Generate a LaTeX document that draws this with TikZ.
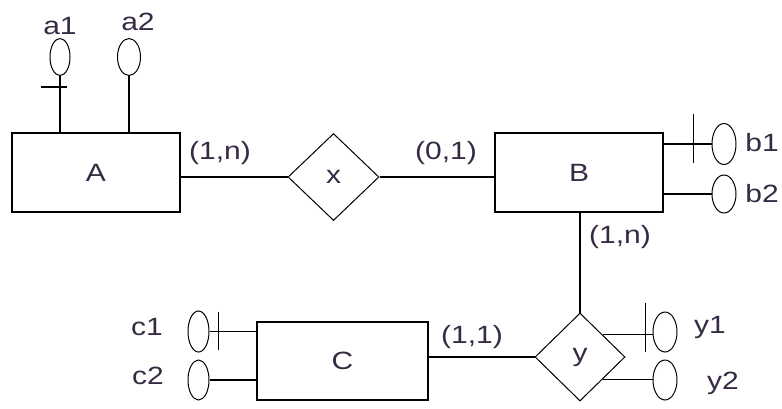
\documentclass[tikz,border=0pt]{standalone}
\usepackage{fontspec}
\setmainfont{Liberation Sans}[FakeStretch=1.2]
\usetikzlibrary{shapes.geometric}
\definecolor{txt}{RGB}{55,42,68}
\begin{document}
\begin{tikzpicture}[x=1pt,y=-1pt,
  lbl/.style={font=\fontsize{25}{29}\selectfont,text=txt,inner sep=0pt},
  ent/.style={draw,line width=1.4pt,rectangle,minimum width=168pt,minimum height=79pt,inner sep=0pt,lbl},
  rel/.style={draw,line width=1pt,diamond,inner sep=0pt,lbl},
  attr/.style={draw,line width=1pt,ellipse,inner sep=0pt,minimum width=22pt,minimum height=39pt},
  lnk/.style={line width=1.4pt}]
\useasboundingbox (0,0) rectangle (782,408);
% entities
\node[ent] (A) at (96,172.5) {A};
\node[ent] (B) at (579,172.5) {B};
\node[ent,minimum width=171pt,minimum height=78pt] (C) at (342.5,361) {C};
% relationships
\node[rel,minimum width=91pt,minimum height=87pt] (x) at (333.5,177) {x};
\node[rel,minimum width=90pt,minimum height=88pt] (y) at (580,357) {y};
% attributes
\node[attr,minimum width=20pt,minimum height=37pt] (a1e) at (60,57) {};
\node[attr,minimum width=23pt,minimum height=37pt] (a2e) at (129,57) {};
\node[attr,minimum width=24pt,minimum height=41pt] (b1e) at (724,144) {};
\node[attr,minimum width=24pt,minimum height=38pt] (b2e) at (724,194) {};
\node[attr,minimum width=21pt,minimum height=41pt] (c1e) at (198.5,331.5) {};
\node[attr,minimum width=21pt,minimum height=40pt] (c2e) at (198.5,380) {};
\node[attr,minimum width=24pt,minimum height=40pt] (y1e) at (665,332) {};
\node[attr,minimum width=24pt,minimum height=40pt] (y2e) at (665,380) {};
% labels
\node[lbl] (a1) at (60,26) {a1};
\node[lbl] (a2) at (138,22) {a2};
\node[lbl] (b1) at (762,143) {b1};
\node[lbl] (b2) at (762,194) {b2};
\node[lbl] (c1) at (147,327) {c1};
\node[lbl] (c2) at (148,376) {c2};
\node[lbl] (y1) at (710,327) {y1};
\node[lbl] (y2) at (723,383) {y2};
\node[lbl] (cax) at (220,153) {(1,n)};
\node[lbl] (cbx) at (446,153) {(0,1)};
\node[lbl] (cby) at (620,237) {(1,n)};
\node[lbl] (ccy) at (472,337) {(1,1)};
% relationship links
\draw[lnk] (A.east |- x.west) -- (x.west);
\draw[lnk] (x.east) -- (B.west |- x.east);
\draw[lnk] (B.south -| y.north) -- (y.north);
\draw[lnk] (y.west) -- (C.east |- y.west);
% attribute links
\draw[lnk] (A.north -| a1e.south) -- (a1e.south);
\draw[lnk] ([shift={(-19pt,-11pt)}]a1e.south) -- ++(26,0);
\draw[lnk] (A.north -| a2e.south) -- (a2e.south);
\draw[lnk] (B.east |- b1e.west) -- (b1e.west);
\draw[lnk] ([shift={(-18pt,30pt)}]b1e.west) -- ++(0,49);
\draw[lnk] (B.east |- b2e.west) -- (b2e.west);
\draw[lnk] (C.west |- c1e.east) -- (c1e.east);
\draw[lnk] ([shift={(9pt,20pt)}]c1e.east) -- ++(0,38);
\draw[lnk] (C.west |- c2e.east) -- (c2e.east);
\draw[lnk] (y.north east) -- (y.north east -| y1e.west);
\draw[lnk] ([shift={(-7pt,29pt)}]y1e.west) -- ++(0,49);
\draw[lnk] (y.south east) -- (y.south east -| y2e.west);
\end{tikzpicture}
\end{document}
